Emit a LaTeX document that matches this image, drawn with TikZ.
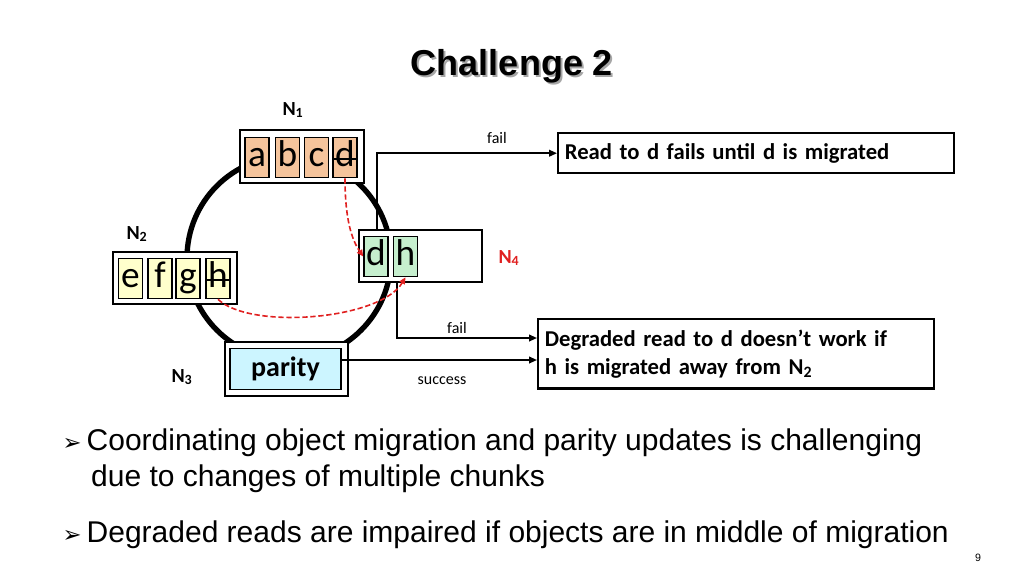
\documentclass[tikz,border=0pt]{standalone}
\usepackage{fontspec}
\setmainfont{Liberation Sans}
\newfontfamily\calfont{Carlito}
\newfontfamily\djfont{DejaVu Sans}
\usetikzlibrary{arrows.meta}
\definecolor{orc}{HTML}{F5C49C}
\definecolor{yec}{HTML}{FFFFCC}
\definecolor{grc}{HTML}{C6EFCE}
\definecolor{cyc}{HTML}{CCF5FF}
\definecolor{redd}{HTML}{E02020}
\begin{document}
\begin{tikzpicture}[x=0.75pt,y=-0.75pt,
  outer/.style={draw,line width=2.2pt,fill=white},
  cell/.style={draw,line width=1.2pt,minimum width=18pt,minimum height=30pt,inner sep=0pt,text height=17pt,text depth=4pt,font=\calfont\fontsize{28}{28}\selectfont},
  conn/.style={line width=1.3pt},
  arr/.style={conn,-{Triangle[length=6pt,width=5pt]}},
  mig/.style={draw=redd,line width=1.2pt,dashed,dash pattern=on 4pt off 2pt,-{Triangle[length=5pt,width=4.5pt]}},
  lbl/.style={font=\calfont\fontsize{12}{12}\selectfont},
  nlab/.style={font=\calfont\bfseries\fontsize{15}{15}\selectfont},
  infobox/.style={draw,line width=1.8pt,align=left,anchor=north west,inner sep=5pt,font=\calfont\bfseries\fontsize{17}{21}\selectfont}]
\useasboundingbox (0,0) rectangle (1024,576);
% title
\node[font=\bfseries\fontsize{27}{27}\selectfont,text=gray!70] at (514,68) {Challenge 2};
\node (title) [font=\bfseries\fontsize{27}{27}\selectfont] at (512,66) {Challenge 2};
% ring
\draw[line width=4pt] (289,258) circle (102);
% N1
\draw[outer] (240,130) rectangle (364,183);
\node (a) [cell,fill=orc] at (257,157.5) {a};
\node (b) [cell,fill=orc] at (287.5,157.5) {b};
\node (c) [cell,fill=orc] at (316.5,157.5) {c};
\node (d1) [cell,fill=orc] at (345,157.5) {d};
\draw[line width=1pt] (334,159) -- (357,159);
% N2
\draw[outer] (113,252) rectangle (237,304);
\node (e) [cell,fill=yec] at (130.5,278.5) {e};
\node (f) [cell,fill=yec] at (160,278.5) {f};
\node (g) [cell,fill=yec] at (188,278.5) {g};
\node (h2) [cell,fill=yec] at (218,278.5) {h};
\draw[line width=1pt] (207,280) -- (230,280);
% N4
\draw[outer,line width=1.8pt] (359,230) rectangle (482,282);
\node (d4) [cell,fill=grc] at (376,256.5) {d};
\node (h4) [cell,fill=grc] at (405.5,256.5) {h};
% N3
\draw[outer] (225,342) rectangle (348,396);
\node (par) [draw,line width=1.2pt,fill=cyc,minimum width=83pt,minimum height=31pt,inner sep=0pt,font=\calfont\bfseries\fontsize{21}{21}\selectfont] at (285.5,369) {parity};
% N labels
\node[nlab] at (293,110) {N\textsubscript{1}};
\node[nlab] at (137,234) {N\textsubscript{2}};
\node[nlab] at (182,377) {N\textsubscript{3}};
\node[nlab,text=redd] at (509,258) {N\textsubscript{4}};
% info boxes
\node (box1) [infobox,text width=287pt,minimum height=30pt] at (557,132) {Read to d fails until d is migrated};
\node (box2) [infobox,text width=287pt,minimum height=52pt] at (537,318) {Degraded read to d doesn’t work if\\h is migrated away from N\textsubscript{2}};
% connectors
\coordinate (t1) at (377,230);
\draw[arr] (t1) |- (box1.west);
\node[lbl] at (497,138) {fail};
\coordinate (t2) at (397,282);
\draw[arr] (t2) |- (box2.west |- 0,338);
\node[lbl] at (457,328) {fail};
\draw[arr] (par.east |- 0,360) -- (box2.west |- 0,360);
\node[lbl] at (442,381) {success};
% migrations
\draw[mig] (d1.south) .. controls (345,220) and (352,240) .. (d4.west);
\draw[mig] (h2.south) .. controls (250,330) and (380,320) .. (h4.south);
% bullets
\node[anchor=west,font=\fontsize{22.5}{27}\selectfont,align=left] at (58,461) {{\djfont\fontsize{17}{17}\selectfont ➢}\,Coordinating object migration and parity updates is challenging\\\hspace*{0.95em}due to changes of multiple chunks};
\node[anchor=west,font=\fontsize{22.5}{27}\selectfont] at (58,535) {{\djfont\fontsize{17}{17}\selectfont ➢}\,Degraded reads are impaired if objects are in middle of migration};
\node[font=\fontsize{8}{8}\selectfont] at (978,558) {9};
\end{tikzpicture}
\end{document}
